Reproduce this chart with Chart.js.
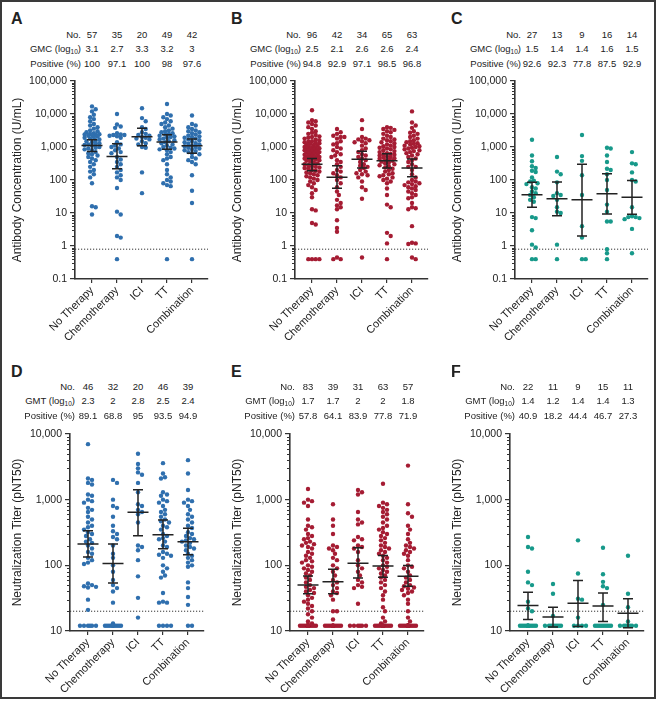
<!DOCTYPE html>
<html><head><meta charset="utf-8">
<script src="https://cdn.jsdelivr.net/npm/chart.js@4.4.0/dist/chart.umd.min.js"></script>
<style>
html,body{margin:0;padding:0;background:#fff;}
body{width:658px;height:702px;position:relative;overflow:hidden;font-family:'Liberation Sans',Arial,Helvetica,sans-serif;color:#222;}
#frame{position:absolute;left:0;top:0;width:656px;height:699px;border:2px solid #3a3a3a;box-sizing:border-box;pointer-events:none;z-index:5;}
canvas{position:absolute;}
.letter{position:absolute;font-weight:bold;font-size:16px;line-height:16px;color:#222;}
.tl{position:absolute;font-size:9.5px;line-height:12px;white-space:nowrap;color:#222;}
.tl sub{font-size:6.5px;vertical-align:-2px;line-height:0;}
</style></head><body>
<div id="frame"></div>
<script>
// ---------------- DATA ----------------
const categories = ['No Therapy','Chemotherapy','ICI','TT','Combination'];

// Antibody concentration (U/mL), panels A-C
const antibodyA = [
 [17000,14000,12000,9500,8000,7000,6000,5000,4500,4000,3600,3200,3000,2800,2600,2500,2450,2400,2350,2300,2200,2100,2000,1900,1800,1700,1600,1500,1400,1300,1250,1200,1150,1100,1000,950,900,850,800,700,650,600,550,500,450,400,350,300,250,200,180,150,120,80,16,15,9],
 [10000,4800,4200,3800,2600,2400,2300,2300,2200,2100,1900,1400,1200,1100,1000,900,800,700,650,500,420,350,300,250,200,170,140,120,100,57,11,9,2,1.8,0.4],
 [15000,7500,6000,4000,3500,2800,2500,2300,2200,2000,1900,1800,1700,1500,1300,1200,1000,950,170,40],
 [20000,10000,9000,8000,7000,6000,5500,5000,4500,4000,3600,3200,3000,2800,2600,2500,2400,2200,2100,2000,1900,1800,1700,1600,1500,1400,1300,1200,1100,1000,950,900,850,800,700,600,500,450,400,300,200,150,120,100,90,80,70,65,0.4],
 [9000,5000,4500,4000,3500,3200,3000,2800,2600,2400,2200,2100,2000,1900,1800,1700,1600,1500,1400,1300,1250,1200,1100,1050,1000,950,900,850,800,750,700,650,600,500,450,400,350,300,140,47,20,0.4]
];
const antibodyB = [
 [13000,6500,6000,5500,5000,4500,4000,3500,3000,2700,2500,2300,2100,2000,1900,1800,1700,1600,1500,1450,1400,1350,1300,1250,1200,1150,1100,1050,1000,980,950,920,900,880,850,820,800,780,750,720,700,680,650,630,600,580,560,540,520,500,490,480,470,460,450,440,430,420,400,380,360,340,320,300,280,260,250,240,230,220,200,190,180,170,160,150,140,130,120,110,100,90,80,70,60,50,40,30,13,12,5,4.5,0.4,0.4,0.4,0.4],
 [3500,2800,2500,2200,2000,2000,1800,1500,1300,1200,1000,900,800,700,600,550,500,400,350,300,250,200,180,160,140,120,100,80,60,45,35,25,20,17,15,13,6,3.5,2.7,0.45,0.4,0.4],
 [6500,3500,2000,1800,1700,1600,1500,1400,1300,1100,900,800,700,600,550,500,450,400,350,300,270,250,230,200,180,160,150,140,120,90,60,50,27,0.45],
 [4000,3800,3500,3300,3000,2800,2500,2200,2000,1800,1700,1600,1500,1400,1300,1200,1100,1050,1000,950,900,850,800,750,700,650,620,600,580,550,520,500,480,460,440,420,400,380,360,340,320,300,280,260,240,220,200,180,160,150,140,130,120,110,100,90,80,55,35,18,15,2.5,2,1.2,0.4],
 [12000,5500,4500,3800,3000,2700,2500,2200,2000,1800,1600,1500,1400,1300,1250,1200,1100,1050,1000,950,900,850,800,750,700,650,600,550,500,450,400,350,300,250,250,200,150,120,100,90,85,80,75,70,65,60,55,50,45,40,35,30,28,20,15,14,13,4,1.25,1.2,1.15,0.45,0.4]
];
const antibodyC = [
 [1650,550,370,260,230,190,175,120,95,90,80,75,60,55,45,40,35,30,25,22,7.5,7,3,1.1,0.9,0.4,0.4],
 [500,180,150,85,40,35,33,25,15,11,10,1.1,0.4],
 [2300,530,380,140,35,4,1.8,0.4,0.4],
 [950,900,550,350,220,200,150,100,50,18,11,5.5,5.5,0.8,0.6,0.4],
 [700,320,300,170,100,90,15,8,7.5,7.5,7,6.5,3.3,0.6]
];
// Neutralization titer (pNT50), panels D-F
const neutD = [
 [7000,2100,2000,1800,1700,1200,1150,1000,950,900,750,700,650,550,500,450,400,380,350,320,300,280,250,230,220,200,180,160,150,130,120,110,105,53,50,48,47,46,30,21,12,12,12,12,12,12],
 [2000,1800,1000,800,750,550,400,330,300,270,250,200,150,130,100,80,60,50,45,40,27,13,12,12,12,12,12,12,12,12,12,12],
 [5000,3500,3000,2600,2400,1800,1300,850,800,700,650,600,450,200,190,170,120,68,32,16],
 [3600,2500,2200,2100,1300,1200,1150,1000,950,900,800,700,650,600,550,500,470,450,400,380,350,300,280,260,250,230,200,190,160,150,145,140,130,100,90,80,70,65,38,28,27,27,12,12,12,12],
 [4000,2500,1400,1000,950,900,800,700,600,550,500,450,400,370,320,300,280,260,250,240,230,220,200,190,180,170,150,140,130,120,110,100,95,55,45,33,25,12,12]
];
const neutE = [
 [1450,1000,950,900,800,500,400,380,350,300,280,260,250,230,220,210,200,190,180,160,150,140,130,120,115,110,100,95,90,85,80,75,70,65,60,55,50,47,45,42,40,38,35,32,30,28,26,24,22,20,18,16,14,13,12,12,12,12,12,12,12,12,12,12,12,12,12,12,12,12,12,12,12,12,12,12,12,12,12,12,12,12,12],
 [850,500,400,300,200,190,180,170,150,130,120,100,90,80,70,60,55,50,45,40,38,35,30,20,20,15,12,12,12,12,12,12,12,12,12,12,12,12,12],
 [1400,1300,1200,650,500,450,420,270,250,240,200,190,180,160,120,100,90,80,70,60,55,50,47,45,26,12,12,12,12,12,12],
 [1750,900,850,800,750,700,650,600,550,500,450,400,370,350,320,300,280,260,240,220,200,190,180,170,160,150,140,130,120,110,100,95,90,85,80,75,70,65,60,55,50,45,40,35,30,23,20,16,14,13,12,12,12,12,12,12,12,12,12,12,12,12,12],
 [3300,850,620,550,400,350,300,250,220,200,190,180,170,160,150,140,120,100,95,90,80,70,65,60,55,50,48,46,44,42,40,38,35,30,26,20,16,14,12,12,12,12,12,12,12,12,12,12,12,12,12,12,12,12,12,12,12]
];
const neutF = [
 [270,190,180,80,55,50,28,22,20,12,12,12,12,12,12,12,12,12,12,12,12,12],
 [52,37,17,12,12,12,12,12,12,12,12],
 [240,75,31,30,16,12,12,12,12],
 [185,73,56,48,45,25,12,12,12,12,12,12,12,12,12],
 [140,37,23,14,12,12,12,12,12,12,12]
];

// Geometric means and 95% CI shown as bars
const gmA = [1120,515,2050,1420,1100], loA = [730,220,1100,860,650], hiA = [1650,1250,3700,2350,1750];
const gmB = [300,122,425,380,233],    loB = [190,56,230,230,126],    hiB = [450,270,740,620,435];
const gmC = [36,27,25,38,30],         loC = [15,8.3,2.0,9.3,9.1],    hiC = [86,87,300,155,96];
const gmD = [211,107,641,293,229],    loD = [134,54,283,179,145],    hiD = [337,211,1420,490,366];
const gmE = [50,56,108,98,68],        loE = [37,37,64,66,48],        hiE = [69,87,186,141,99];
const gmF = [24.4,16.3,26.5,24,18.6], loF = [15,11.5,11.7,14,11.2],  hiF = [39,23,59,38,31];

// Table rows
const countA = ['57','35','20','49','42'], logGmA = ['3.1','2.7','3.3','3.2','3'],   posA = ['100','97.1','100','98','97.6'];
const countB = ['96','42','34','65','63'], logGmB = ['2.5','2.1','2.6','2.6','2.4'], posB = ['94.8','92.9','97.1','98.5','96.8'];
const countC = ['27','13','9','16','14'],  logGmC = ['1.5','1.4','1.4','1.6','1.5'], posC = ['92.6','92.3','77.8','87.5','92.9'];
const countD = ['46','32','20','46','39'], logGmD = ['2.3','2','2.8','2.5','2.4'],   posD = ['89.1','68.8','95','93.5','94.9'];
const countE = ['83','39','31','63','57'], logGmE = ['1.7','1.7','2','2','1.8'],     posE = ['57.8','64.1','83.9','77.8','71.9'];
const countF = ['22','11','9','15','11'],  logGmF = ['1.4','1.2','1.4','1.4','1.3'], posF = ['40.9','18.2','44.4','46.7','27.3'];

const antibodyTicks = [0.1,1,10,100,1000,10000,100000];
const neutTicks = [10,100,1000,10000];
const antibodyLOD = 0.8;
const neutLOD = 20;

// ---------------- LAYOUT / STYLE ----------------
const BLUE = '#2f6fae', RED = '#a51c33', TEAL = '#17998a', INK = '#222';
const FONT = "'Liberation Sans', Arial, Helvetica, sans-serif";
const topLayout = {canvasTop:70, width:220, height:270, padTop:11, padRight:12, yAxisW:75, xAxisH:61,
  xMin:-0.68, xMax:4.64, ppd:33, maxHalf:9, dot:3.7, rowLabelRight:81, rowY:[35,48.5,63.5], letterTop:10, letterLeft:11,
  yMin:0.1, yMax:100000, ticks:antibodyTicks, lod:antibodyLOD, title:'Antibody Concentration (U/mL)', gmLabel:'GMC'};
const botLayout = {canvasTop:420, width:220, height:276, padTop:14, padRight:16, yAxisW:70, xAxisH:65,
  xMin:-0.72, xMax:4.64, ppd:65.7, maxHalf:8, dot:4, rowLabelRight:75, rowY:[387,401,416], letterTop:363, letterLeft:11,
  yMin:10, yMax:10000, ticks:neutTicks, lod:neutLOD, title:'Neutralization Titer (pNT50)', gmLabel:'GMT'};

const panels = [
 {letter:'A', off:0,   L:topLayout, values:antibodyA, gm:gmA, lo:loA, hi:hiA, n:countA, g:logGmA, pos:posA, color:BLUE},
 {letter:'B', off:220, L:topLayout, values:antibodyB, gm:gmB, lo:loB, hi:hiB, n:countB, g:logGmB, pos:posB, color:RED},
 {letter:'C', off:440, L:topLayout, values:antibodyC, gm:gmC, lo:loC, hi:hiC, n:countC, g:logGmC, pos:posC, color:TEAL},
 {letter:'D', off:0,   L:botLayout, values:neutD, gm:gmD, lo:loD, hi:hiD, n:countD, g:logGmD, pos:posD, color:BLUE},
 {letter:'E', off:220, L:botLayout, values:neutE, gm:gmE, lo:loE, hi:hiE, n:countE, g:logGmE, pos:posE, color:RED},
 {letter:'F', off:440, L:botLayout, values:neutF, gm:gmF, lo:loF, hi:hiF, n:countF, g:logGmF, pos:posF, color:TEAL}
];

// Beeswarm placement (deterministic, derived from values)
function swarm(groups, L) {
  const ppu = (L.width - L.padRight - L.yAxisW) / (L.xMax - L.xMin);
  const dot = L.dot;
  return groups.map((vals, gi) => {
    const placed = [];
    const sorted = vals.slice().sort((a,b)=>b-a);
    return sorted.map(v => {
      const py = Math.log10(v) * L.ppd;
      let best = 0, bestD = -1, found = false;
      for (let k = 0; k <= 12 && !found; k++) {
        const offs = k === 0 ? [0] : [k*dot/2, -k*dot/2];
        for (const px of offs) {
          if (Math.abs(px) > L.maxHalf) continue;
          let minD = Infinity;
          for (const q of placed) { const d = Math.hypot(q.px-px, q.py-py); if (d < minD) minD = d; }
          if (minD >= dot) { best = px; found = true; break; }
          if (minD > bestD + 0.01) { bestD = minD; best = px; }
        }
      }
      placed.push({px:best, py});
      return {x: gi + best/ppu, y: v};
    });
  });
}

const overlay = {
  id:'overlay',
  beforeDatasetsDraw(chart, args, o) {
    const {ctx, chartArea, scales:{y}} = chart;
    const yl = y.getPixelForValue(o.lod);
    ctx.save();
    ctx.strokeStyle = '#333'; ctx.lineWidth = 1; ctx.setLineDash([1.2,1.8]);
    ctx.beginPath(); ctx.moveTo(chartArea.left, yl); ctx.lineTo(chartArea.right, yl); ctx.stroke();
    ctx.restore();
  },
  afterDatasetsDraw(chart, args, o) {
    const {ctx, chartArea, scales:{x,y}} = chart;
    ctx.save();
    ctx.strokeStyle = INK; ctx.lineWidth = 1.5;
    o.gm.forEach((g, i) => {
      const cx = x.getPixelForValue(i);
      const ym = y.getPixelForValue(g), yl = y.getPixelForValue(o.lo[i]), yh = y.getPixelForValue(o.hi[i]);
      const mw = x.getPixelForValue(i+0.42) - cx, cw = x.getPixelForValue(i+0.2) - cx;
      ctx.beginPath();
      ctx.moveTo(cx-mw, ym); ctx.lineTo(cx+mw, ym);
      ctx.moveTo(cx, yh); ctx.lineTo(cx, yl);
      ctx.moveTo(cx-cw, yh); ctx.lineTo(cx+cw, yh);
      ctx.moveTo(cx-cw, yl); ctx.lineTo(cx+cw, yl);
      ctx.stroke();
    });
    // minor log ticks
    ctx.strokeStyle = '#333'; ctx.lineWidth = 1;
    const lo = Math.round(Math.log10(o.yMin)), hi = Math.round(Math.log10(o.yMax));
    ctx.beginPath();
    for (let e = lo; e < hi; e++) {
      for (let m = 2; m <= 9; m++) {
        const py = Math.round(y.getPixelForValue(m*Math.pow(10,e))) + 0.5;
        ctx.moveTo(chartArea.left - 3, py); ctx.lineTo(chartArea.left, py);
      }
    }
    ctx.stroke();
    ctx.restore();
  }
};

function fmt(v){ return v < 1 ? String(v) : v.toLocaleString('en-US'); }

function addText(cls, html, style){
  const d = document.createElement('div'); d.className = cls; d.innerHTML = html;
  Object.assign(d.style, style); document.body.appendChild(d); return d;
}

panels.forEach(p => {
  const L = p.L;
  const cv = document.createElement('canvas');
  cv.width = L.width; cv.height = L.height;
  cv.style.left = p.off + 'px'; cv.style.top = L.canvasTop + 'px';
  cv.style.width = L.width + 'px'; cv.style.height = L.height + 'px';
  document.body.appendChild(cv);
  const pts = swarm(p.values, L);
  const chart = new Chart(cv.getContext('2d'), {
    type:'scatter',
    data:{datasets: pts.map((d,i)=>({label:categories[i], data:d, backgroundColor:p.color, borderWidth:0, pointRadius:2.2, pointHoverRadius:2.2}))},
    options:{
      responsive:false, animation:false, devicePixelRatio:1,
      layout:{padding:{top:L.padTop, right:L.padRight, left:0, bottom:0}},
      plugins:{legend:{display:false}, tooltip:{enabled:false},
        overlay:{gm:p.gm, lo:p.lo, hi:p.hi, lod:L.lod, yMin:L.yMin, yMax:L.yMax}},
      scales:{
        x:{type:'linear', min:L.xMin, max:L.xMax,
          afterBuildTicks:s=>{ s.ticks = categories.map((c,i)=>({value:i})); },
          afterFit:s=>{ s.height = L.xAxisH; },
          ticks:{autoSkip:false, minRotation:45, maxRotation:45, padding:1, color:INK,
            font:{family:FONT, size:11}, callback:v=>categories[v]},
          grid:{drawOnChartArea:false, tickLength:4, color:'#333', lineWidth:1.2},
          border:{color:'#333', width:1.6}},
        y:{type:'logarithmic', min:L.yMin, max:L.yMax,
          afterBuildTicks:s=>{ s.ticks = L.ticks.map(v=>({value:v})); },
          afterFit:s=>{ s.width = L.yAxisW; },
          ticks:{color:INK, padding:3, font:{family:FONT, size:10.5}, callback:v=>fmt(v)},
          grid:{drawOnChartArea:false, tickLength:5, color:'#333', lineWidth:1.2},
          border:{color:'#333', width:1.6},
          title:{display:true, text:L.title, color:INK, font:{family:FONT, size:12}, padding:{top:10, bottom:0}}}
      }
    },
    plugins:[overlay]
  });

  // panel letter
  addText('letter', p.letter, {left:(p.off + L.letterLeft)+'px', top:(L.letterTop+1)+'px'});
  // table
  const labels = ['No.', L.gmLabel + ' (log<sub>10</sub>)', 'Positive (%)'];
  const rows = [p.n, p.g, p.pos];
  labels.forEach((lab, r) => {
    addText('tl', lab, {right:(658 - (p.off + L.rowLabelRight))+'px', top:(L.rowY[r]-6)+'px'});
    rows[r].forEach((t, i) => {
      const cx = p.off + chart.scales.x.getPixelForValue(i);
      addText('tl', t, {left:cx+'px', top:(L.rowY[r]-6)+'px', transform:'translateX(-50%)'});
    });
  });
});
</script>
</body></html>
